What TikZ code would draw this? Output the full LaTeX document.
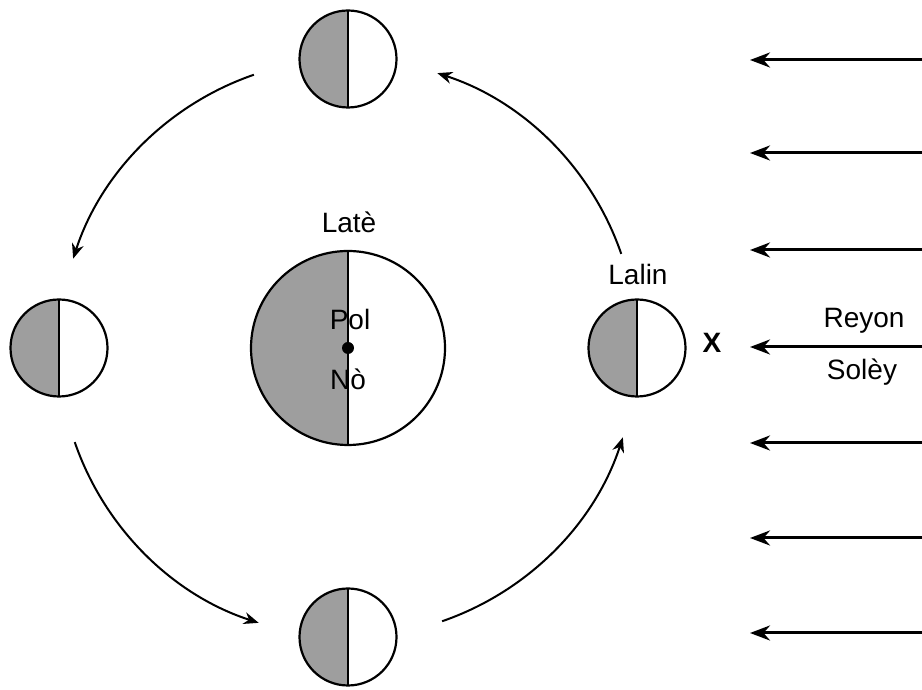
\documentclass[tikz,border=0pt]{standalone}
\usepackage{fontspec}
\setmainfont{Liberation Sans}
\usetikzlibrary{arrows.meta}
\definecolor{shadow}{RGB}{158,158,158}
\tikzset{%
  every moon/.style={
    circle,
    draw,
    line width=2.2pt,
    inner sep=0pt,
    minimum size=97pt,
    path picture={
      \fill[shadow] (path picture bounding box.south west) rectangle (path picture bounding box.north);
      \draw[line width=2.2pt] (path picture bounding box.north) -- (path picture bounding box.south);
    }
  },
  earth/.style={
    every moon,
    minimum size=194pt
  },
  orbit/.style={line width=2pt, -{Stealth[length=15pt, width=12pt]}},
  ray/.style={line width=3pt, -{Stealth[length=20pt, width=15pt]}},
  every label text/.style={font=\fontsize{28}{33}\selectfont, inner sep=0pt, anchor=base},
}

\begin{document}
\begin{tikzpicture}[x=1pt, y=1pt]
  \useasboundingbox (0,0) rectangle (922,690);

  % Earth with its pole
  \node [earth] (earth) at (348,342) {};
  \node [circle, fill, inner sep=0pt, minimum size=12pt] (pole) at (earth.center) {};

  % Moons on the orbit
  \foreach \m/\a in {1/0,2/90,3/180,4/270}
    \node [every moon/.try, moon \m/.try] (moon-\m) at ([shift={(\a:289)}]earth.center) {};

  % Arrows of the orbit
  \foreach \a in {0,90,180,270}
    \draw [orbit] ([shift={(\a+19:289)}]earth.center)
      arc [start angle=\a+19, end angle=\a+72, radius=289];

  % Rays from the sun
  \foreach \y [count=\i] in {630,537,440,343,247,152,57} {
    \coordinate (sun-\i) at (922,\y);
    \coordinate (tip-\i) at (750,\y);
    \draw [ray] (sun-\i) -- (tip-\i);
  }

  % Texts
  \node [every label text/.try] (earth-label) at (349,457) {Latè};
  \node [every label text/.try] (pol-label) at (350,360) {Pol};
  \node [every label text/.try] (no-label) at (348,300) {Nò};
  \node [every label text/.try] (moon-label) at (638,405) {Lalin};
  \node [every label text/.try, font=\fontsize{28}{33}\selectfont\bfseries] (x-label) at (712,337) {X};
  \node [every label text/.try] (ray-label-1) at (864,362) {Reyon};
  \node [every label text/.try] (ray-label-2) at (862,310) {Solèy};

\end{tikzpicture}
\end{document}
